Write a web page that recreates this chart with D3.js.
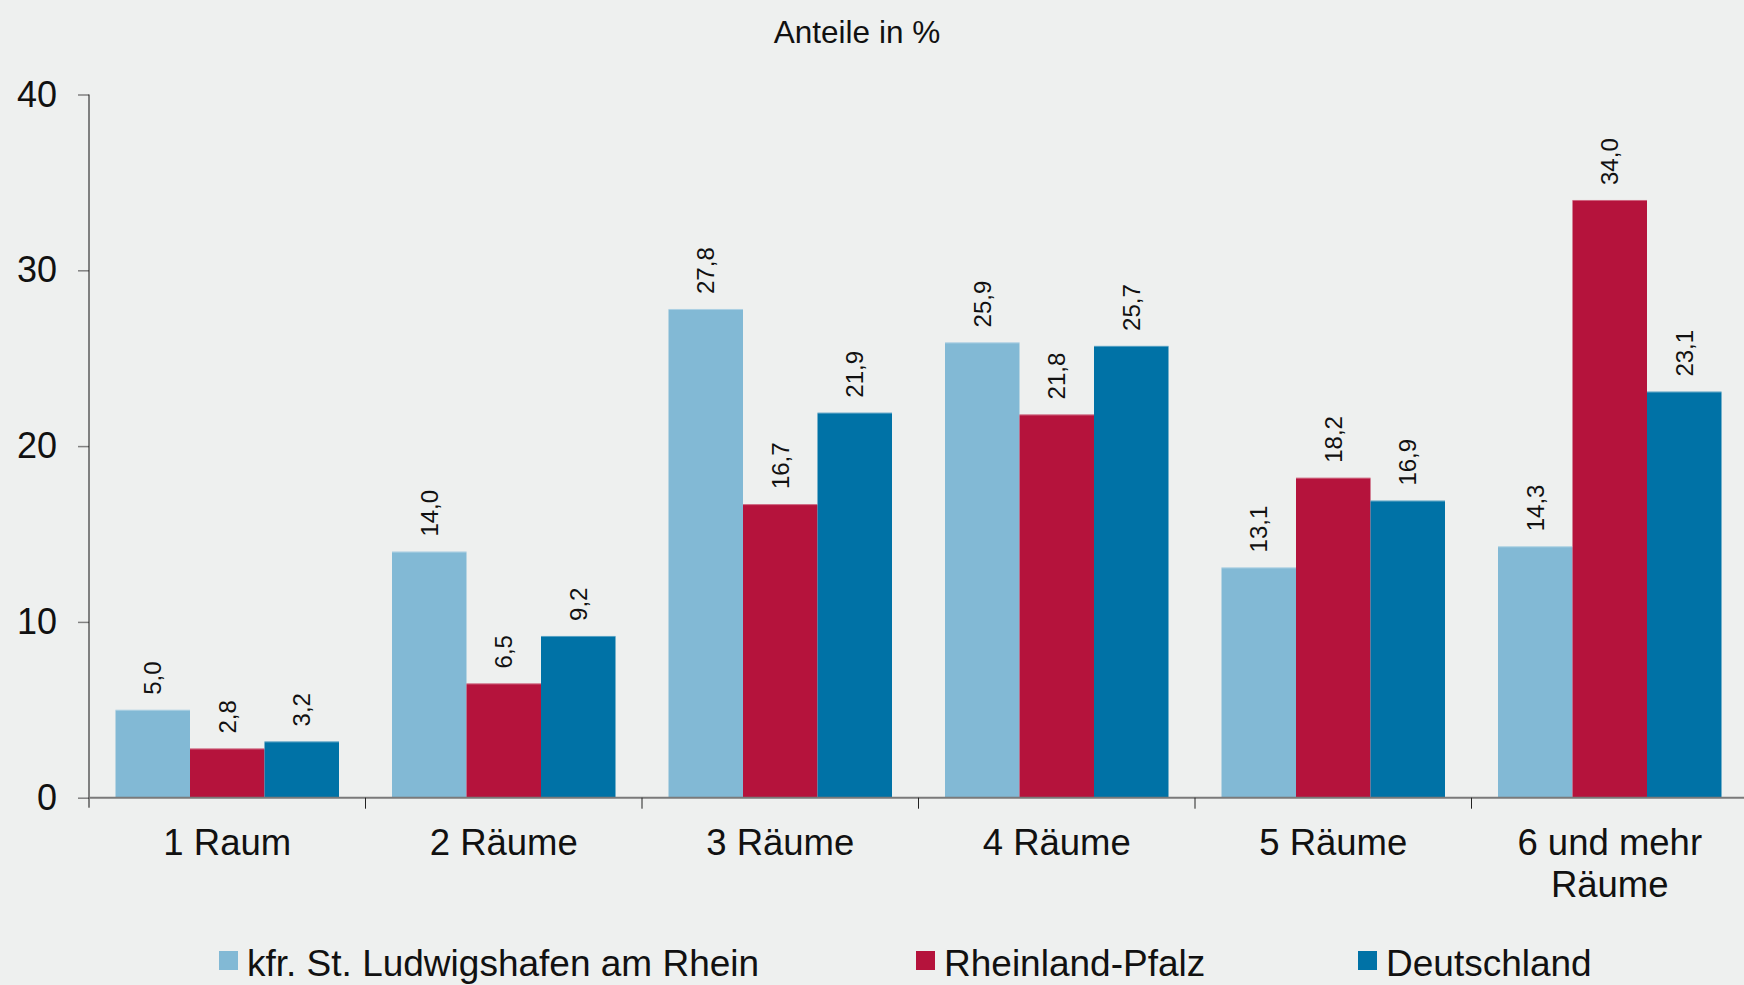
<!DOCTYPE html>
<html>
<head>
<meta charset="utf-8">
<script src="https://cdn.jsdelivr.net/npm/d3@7"></script>
<style>
  html, body { margin: 0; padding: 0; background: #eef0ef; }
  svg { display: block; font-family: "Liberation Sans", Arial, sans-serif; }
</style>
</head>
<body>
<svg id="chart" width="1744" height="985"></svg>
<script>
// ---- data ----
const categories = ["1 Raum", "2 Räume", "3 Räume", "4 Räume", "5 Räume", "6 und mehr Räume"];
const seriesNames = ["kfr. St. Ludwigshafen am Rhein", "Rheinland-Pfalz", "Deutschland"];
const ludwigshafen = [5.0, 14.0, 27.8, 25.9, 13.1, 14.3];
const rheinlandPfalz = [2.8, 6.5, 16.7, 21.8, 18.2, 34.0];
const deutschland = [3.2, 9.2, 21.9, 25.7, 16.9, 23.1];
const yTicks = [0, 10, 20, 30, 40];
const colors = ["#82b9d5", "#b5133c", "#0072a6"];
const title = "Anteile in %";

const seriesValues = [ludwigshafen, rheinlandPfalz, deutschland];
const rows = categories.map((c, i) => ({
  cat: c,
  vals: seriesValues.map((s, j) => ({ key: seriesNames[j], value: s[i], idx: j }))
}));

const svg = d3.select("#chart");
const plot = { left: 89, right: 1748, top: 94.5, bottom: 797.7 };

const x = d3.scaleBand().domain(categories).range([plot.left, plot.right]).paddingInner(0).paddingOuter(0);
const x1 = d3.scaleBand().domain(seriesNames).range([26.5, x.bandwidth() - 26.5]).padding(0);
const y = d3.scaleLinear().domain([0, 40]).range([plot.bottom, plot.top]);
const fmt = v => d3.format(".1f")(v).replace(".", ",");

// title
svg.append("text")
  .attr("x", 857).attr("y", 43)
  .attr("text-anchor", "middle")
  .attr("font-size", 31.5)
  .attr("fill", "#111")
  .text(title);

// bars
const groups = svg.append("g").selectAll("g").data(rows).join("g")
  .attr("transform", d => `translate(${x(d.cat)},0)`);

groups.selectAll("rect").data(d => d.vals).join("rect")
  .attr("x", d => x1(d.key))
  .attr("y", d => y(d.value))
  .attr("width", x1.bandwidth())
  .attr("height", d => y(0) - y(d.value))
  .attr("fill", d => colors[d.idx]);

// subtle lighter top edge
groups.selectAll("line.edge").data(d => d.vals).join("line")
  .attr("class", "edge")
  .attr("x1", d => x1(d.key)).attr("x2", d => x1(d.key) + x1.bandwidth())
  .attr("y1", d => y(d.value) + 0.5).attr("y2", d => y(d.value) + 0.5)
  .attr("stroke", "#ffffff").attr("stroke-opacity", 0.35).attr("stroke-width", 1);

// value labels (rotated)
groups.selectAll("text.val").data(d => d.vals).join("text")
  .attr("class", "val")
  .attr("transform", d => `translate(${x1(d.key) + x1.bandwidth() / 2},${y(d.value) - 15}) rotate(-90)`)
  .attr("dy", "0.35em")
  .attr("text-anchor", "start")
  .attr("font-size", 24)
  .attr("fill", "#111")
  .text(d => fmt(d.value));

// y axis
const yAxis = d3.axisLeft(y).tickValues(yTicks).tickSize(11).tickPadding(21).tickFormat(d3.format("d"));
const gy = svg.append("g").attr("transform", `translate(${plot.left},0)`).call(yAxis);
gy.select(".domain").remove();
gy.selectAll(".tick line").attr("stroke", "#808080").attr("stroke-width", 1.5);
gy.selectAll(".tick text").attr("font-size", 36).attr("fill", "#111").attr("font-family", "Liberation Sans, Arial, sans-serif");
svg.append("line")
  .attr("x1", plot.left).attr("x2", plot.left)
  .attr("y1", y(40)).attr("y2", plot.bottom + 10)
  .attr("stroke", "#111").attr("stroke-width", 1);

// x axis baseline
svg.append("line")
  .attr("x1", plot.left).attr("x2", 1744)
  .attr("y1", y(0)).attr("y2", y(0))
  .attr("stroke", "#7a7a7a").attr("stroke-width", 2);

// x separators
svg.append("g").selectAll("line").data(categories.slice(1)).join("line")
  .attr("x1", d => x(d)).attr("x2", d => x(d))
  .attr("y1", y(0)).attr("y2", y(0) + 11)
  .attr("stroke", "#222").attr("stroke-width", 1);

// x labels with wrapping
const xl = svg.append("g").selectAll("text").data(categories).join("text")
  .attr("x", d => x(d) + x.bandwidth() / 2)
  .attr("y", 855)
  .attr("text-anchor", "middle")
  .attr("font-size", 36.5)
  .attr("fill", "#111");
xl.each(function(d) {
  const t = d3.select(this);
  const words = d.split(" ");
  let line = [];
  let tspan = t.append("tspan").attr("x", x(d) + x.bandwidth() / 2).attr("dy", 0);
  words.forEach(w => {
    line.push(w);
    tspan.text(line.join(" "));
    if (tspan.node().getComputedTextLength() > x.bandwidth() - 10 && line.length > 1) {
      line.pop();
      tspan.text(line.join(" "));
      line = [w];
      tspan = t.append("tspan").attr("x", x(d) + x.bandwidth() / 2).attr("dy", 42).text(w);
    }
  });
});

// legend
const legendX = [219, 916, 1358];
const lg = svg.append("g").selectAll("g").data(seriesNames).join("g")
  .attr("transform", (d, i) => `translate(${legendX[i]},951)`);
lg.append("rect").attr("width", 19).attr("height", 19).attr("fill", (d, i) => colors[i]);
lg.append("text").attr("x", 28).attr("y", 25).attr("font-size", 37).attr("fill", "#111").text(d => d);
</script>
</body>
</html>
